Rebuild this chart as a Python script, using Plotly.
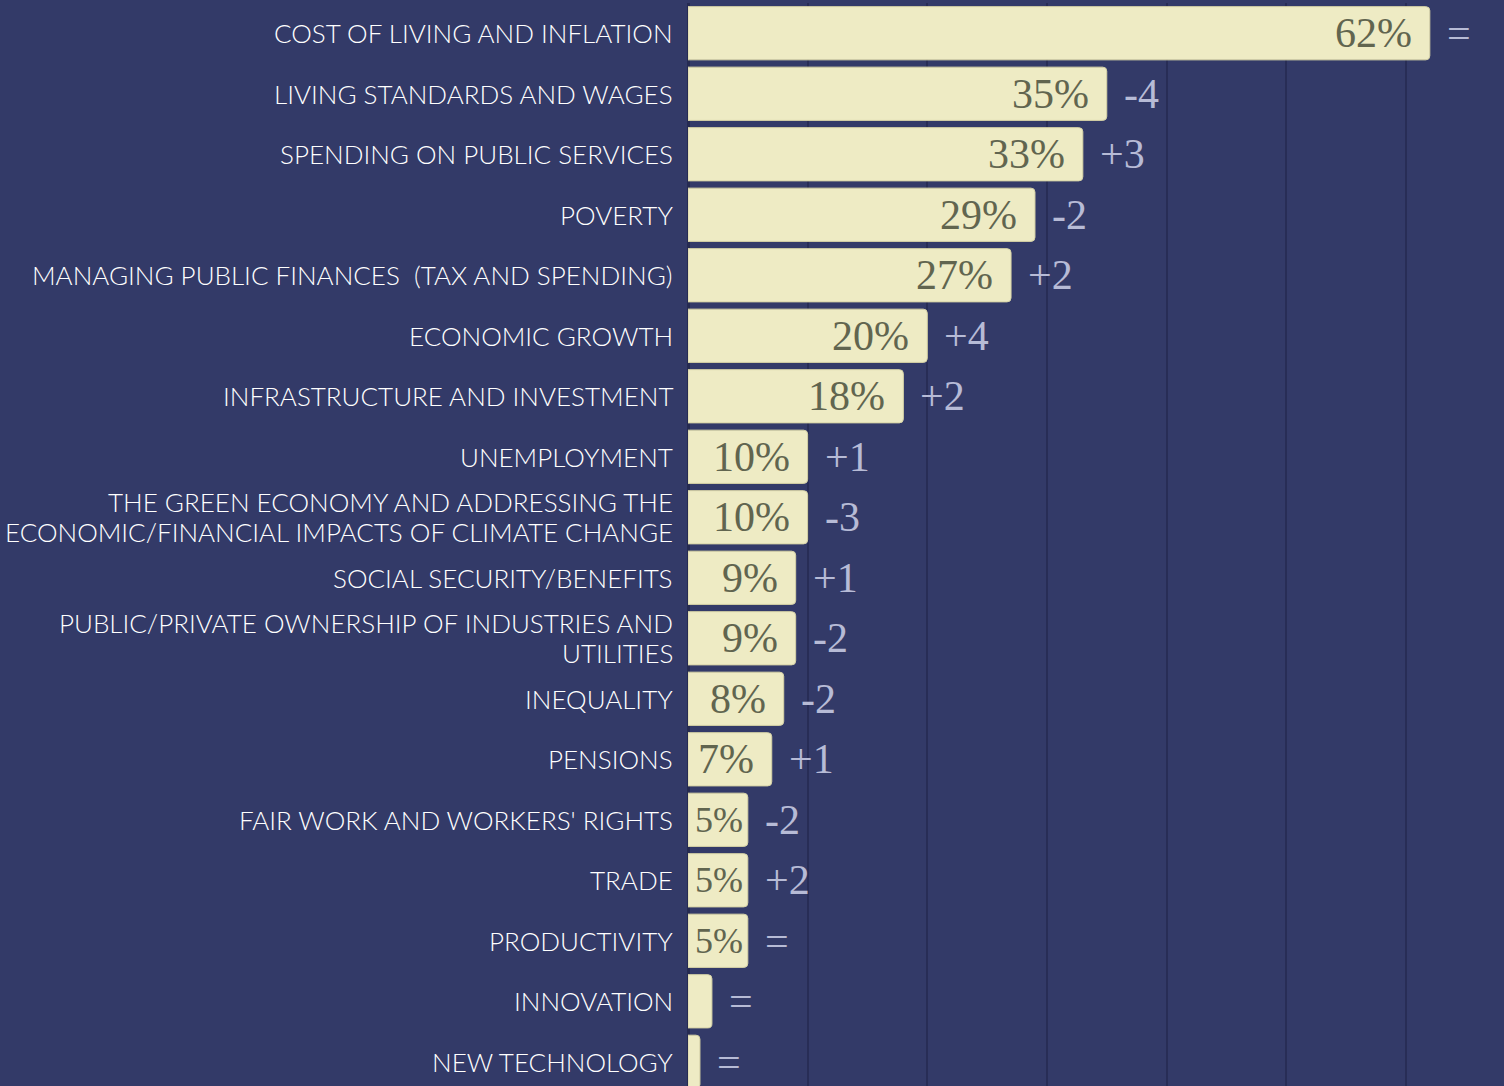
import plotly.graph_objects as go

categories = [
    "COST OF LIVING AND INFLATION",
    "LIVING STANDARDS AND WAGES",
    "SPENDING ON PUBLIC SERVICES",
    "POVERTY",
    "MANAGING PUBLIC FINANCES  (TAX AND SPENDING)",
    "ECONOMIC GROWTH",
    "INFRASTRUCTURE AND INVESTMENT",
    "UNEMPLOYMENT",
    "THE GREEN ECONOMY AND ADDRESSING THE<br>ECONOMIC/FINANCIAL IMPACTS OF CLIMATE CHANGE",
    "SOCIAL SECURITY/BENEFITS",
    "PUBLIC/PRIVATE OWNERSHIP OF INDUSTRIES AND<br>UTILITIES",
    "INEQUALITY",
    "PENSIONS",
    "FAIR WORK AND WORKERS' RIGHTS",
    "TRADE",
    "PRODUCTIVITY",
    "INNOVATION",
    "NEW TECHNOLOGY",
]
values = [62, 35, 33, 29, 27, 20, 18, 10, 10, 9, 9, 8, 7, 5, 5, 5, 2, 1]
value_labels = ["62%", "35%", "33%", "29%", "27%", "20%", "18%", "10%", "10%",
                "9%", "9%", "8%", "7%", "5%", "5%", "5%", "", ""]
changes = ["=", "-4", "+3", "-2", "+2", "+4", "+2", "+1", "-3",
           "+1", "-2", "-2", "+1", "-2", "+2", "=", "=", "="]

BG = "#333a68"
BAR = "#eeebc4"
idx = list(range(len(categories)))

fig = go.Figure()
fig.add_trace(go.Bar(
    x=values, y=idx, orientation="h",
    marker=dict(color=BAR, line=dict(color="#d6d2a6", width=1), cornerradius=4),
    width=0.88, hoverinfo="skip",
))

ann = []
for i, (c, v, vl, ch) in enumerate(zip(categories, values, value_labels, changes)):
    lines = c.split("<br>")
    n = len(lines)
    for k, line in enumerate(lines):
        ann.append(dict(x=0, y=i, xref="x", yref="y", text=line, showarrow=False,
                        xanchor="right", align="right", xshift=-13,
                        yshift=((n - 1) / 2 - k) * 30,
                        font=dict(family="Lato", size=26, weight=300, color="#ffffff")))
    if vl:
        small = v <= 5
        ann.append(dict(x=v, y=i, xref="x", yref="y", text=vl, showarrow=False,
                        xanchor="right" if not small else "center",
                        xshift=-16 if not small else -v * 11.97 / 2 + 1,
                        font=dict(family="Liberation Serif", size=42 if not small else 36,
                                  color="#61654f")))
    ann.append(dict(x=v, y=i, xref="x", yref="y", text=ch, showarrow=False,
                    xanchor="left", xshift=15,
                    font=dict(family="Liberation Serif", size=42, color="#b7bbd6")))

fig.update_layout(
    width=1504, height=1086,
    paper_bgcolor=BG, plot_bgcolor=BG,
    margin=dict(l=688, r=0, t=3, b=0),
    showlegend=False,
    annotations=ann,
    xaxis=dict(range=[0, 68.2], tickvals=[0, 10, 20, 30, 40, 50, 60],
               showticklabels=False, showgrid=True, gridcolor="#282d56",
               gridwidth=2, zeroline=True, zerolinecolor="#262b52",
               zerolinewidth=3, fixedrange=True),
    yaxis=dict(range=[17.40, -0.5], showticklabels=False, showgrid=False,
               zeroline=False, fixedrange=True),
)

fig.write_html("out.html", config={"displayModeBar": False},
               post_script="document.body.style.margin='0';document.body.style.background='#333a68';document.body.style.overflow='hidden';")
